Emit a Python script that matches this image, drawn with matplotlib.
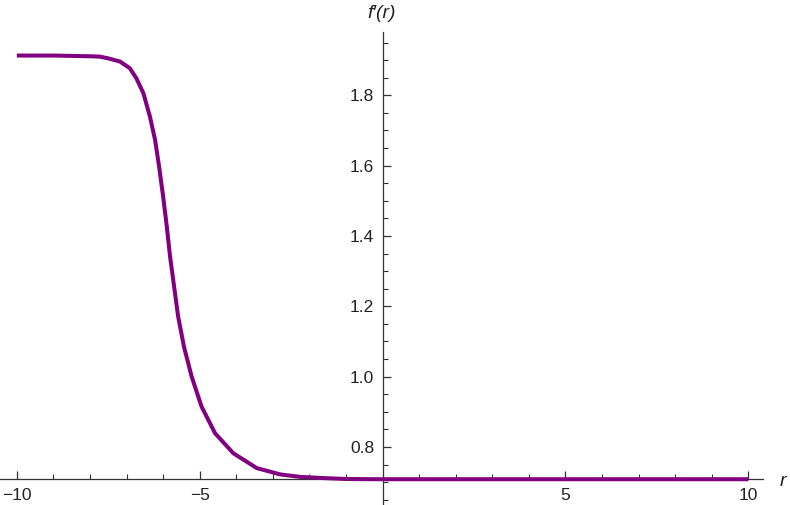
import matplotlib
matplotlib.use("Agg")
import matplotlib.pyplot as plt
from matplotlib.ticker import MultipleLocator, FixedLocator

plt.rcParams['font.family'] = ['Liberation Sans', 'DejaVu Sans']

# values
r_vals = [-10.0, -9.0, -8.5, -8.0, -7.73, -7.5, -7.18, -6.91, -6.73, -6.54,
          -6.36, -6.22, -6.11, -6.00, -5.90, -5.81, -5.70, -5.59, -5.43, -5.22,
          -4.95, -4.58, -4.08, -3.44, -2.80, -2.26, -1.5, -1.0, -0.5, 0.0,
          5.0, 10.0]
fp_vals = [1.913, 1.913, 1.912, 1.911, 1.910, 1.905, 1.896, 1.877, 1.848, 1.806,
           1.739, 1.673, 1.597, 1.512, 1.427, 1.341, 1.256, 1.171, 1.085, 1.000,
           0.915, 0.839, 0.782, 0.740, 0.722, 0.715, 0.711, 0.709, 0.7085, 0.7083,
           0.7083, 0.7083]

x_major = [-10, -5, 5, 10]
x_labels = ["\u221210", "\u22125", "5", "10"]
y_major = [0.8, 1.0, 1.2, 1.4, 1.6, 1.8]
y_labels = ["0.8", "1.0", "1.2", "1.4", "1.6", "1.8"]

W, H = 790, 505
fig = plt.figure(figsize=(W / 100, H / 100), dpi=100)
# axes box in pixels: x 0..763, y 32..505
ax = fig.add_axes([0, 0, 763 / W, (505 - 32) / H])
ax.set_xlim(-10.46, 10.40)
ax.set_ylim(0.635, 1.980)

ax.plot(r_vals, fp_vals, color='#800080', lw=2.9, solid_capstyle='butt',
        solid_joinstyle='round', zorder=3)

axis_col = '#333333'
for s in ['top', 'right']:
    ax.spines[s].set_visible(False)
ax.spines['left'].set_position(('data', 0))
ax.spines['bottom'].set_position(('data', 0.7083))
for s in ['left', 'bottom']:
    ax.spines[s].set_color(axis_col)
    ax.spines[s].set_linewidth(0.9)

ax.xaxis.set_major_locator(FixedLocator(x_major))
ax.set_xticklabels(x_labels)
ax.xaxis.set_minor_locator(MultipleLocator(1))
ax.yaxis.set_major_locator(FixedLocator(y_major))
ax.set_yticklabels(y_labels)
ax.yaxis.set_minor_locator(MultipleLocator(0.05))

ax.tick_params(axis='both', which='major', direction='in', length=6, width=0.9,
               color=axis_col, labelsize=12.5, labelcolor='#222222')
ax.tick_params(axis='both', which='minor', direction='in', length=3.5, width=0.8,
               color=axis_col)
ax.tick_params(axis='x', which='major', pad=6)
ax.tick_params(axis='y', which='major', pad=6)

ax.patch.set_alpha(0)
fig.text(382 / W, 1 - 13 / H, "f\u2032(r)", fontstyle='italic', fontsize=14,
         ha='center', va='center', color='#222222')
fig.text(783 / W, 1 - 481 / H, "r", fontstyle='italic', fontsize=14,
         ha='center', va='center', color='#222222')

fig.savefig("out.png", dpi=100)
